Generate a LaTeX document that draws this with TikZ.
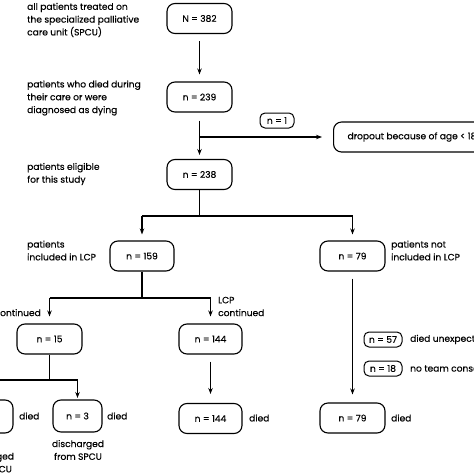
\documentclass[tikz,border=0pt]{standalone}
\usepackage{fontspec}
\setmainfont{Poppins}[FakeBold=0.35]
\usetikzlibrary{arrows.meta}
\begin{document}
\begin{tikzpicture}[x=1pt,y=-1pt,
  txt/.style={font=\fontsize{9.1}{12.8}\selectfont},
  box/.style={draw, rounded corners=8pt, line width=1.1pt, minimum width=65pt, minimum height=30pt, inner sep=0pt, txt},
  sbox/.style={draw, rounded corners=5pt, line width=1pt, minimum width=36pt, minimum height=15pt, inner sep=0pt, txt},
  lbl/.style={align=left, anchor=west, inner sep=0pt, txt},
  ln/.style={line width=1.1pt},
  arr/.style={line width=1.1pt, -{Stealth[length=6pt,width=4.5pt]}}
]
\useasboundingbox (0,0) rectangle (474,474);
\clip (0,0) rectangle (474,474);

% main boxes
\node[box] (n382) at (199.5,18.5) {N = 382};
\node[box] (n239) at (199.5,97) {n = 239};
\node[box] (n238) at (199.5,174.5) {n = 238};
\node[sbox, minimum width=34pt] (n1) at (277,120.5) {n = 1};
\node[box, anchor=west, minimum width=0pt, inner xsep=14pt, align=left] (drop) at (333,137) {dropout because of age < 18};
\node[box, minimum width=64pt] (n159) at (142,256) {n = 159};
\node[box] (n79) at (352.5,256) {n = 79};
\node[box] (n15) at (49.5,339) {n = 15};
\node[box, minimum width=63pt] (n144) at (210.5,339) {n = 144};
\node[box, minimum width=63pt] (n144b) at (210.5,418.5) {n = 144};
\node[box] (n79b) at (352.5,418) {n = 79};
\node[box, minimum width=49pt, minimum height=32pt] (n3) at (77.5,416) {n = 3};
\node[box, minimum width=63pt, minimum height=33pt, align=right, font=\fontsize{5}{6}\selectfont] (nleft) at (-18.5,416.5) {\hfill\\\hfill LCP\,\,};
\node[sbox, minimum width=38pt] (n57) at (383,339.5) {n = 57};
\node[sbox, minimum width=38pt] (n18) at (383,368.5) {n = 18};

% labels
\node[lbl] (l1) at (27,20) {all patients treated on\\the specialized palliative\\care unit (SPCU)};
\node[lbl] (l2) at (27,98) {patients who died during\\their care or were\\diagnosed as dying};
\node[lbl] (l3) at (27,174) {patients eligible\\for this study};
\node[lbl] (l4) at (27,250.5) {patients\\included in LCP};
\node[lbl] (l5) at (218,306.5) {LCP\\continued};
\node[lbl, anchor=east] (l6) at (41,306.5) {LCP\\discontinued};
\node[lbl] (l7) at (391,250.5) {patients not\\included in LCP};
\node[lbl] (l8) at (410,339.5) {died unexpectedly};
\node[lbl] (l9) at (410,368.5) {no team consensus};
\node[lbl] (d1) at (107,416) {died};
\node[lbl] (d2) at (19,416) {died};
\node[lbl] (d3) at (249,418) {died};
\node[lbl] (d4) at (391,418) {died};
\node[txt, align=center, inner sep=0pt] (dis1) at (78,450) {discharged\\from SPCU};
\node[txt, align=center, inner sep=0pt] (dis2) at (-12,462.5) {discharged\\from SPCU};

% junction coordinates
\coordinate (j1) at (199.5,137);
\coordinate (j2) at (199.5,216);
\coordinate (j2l) at (142,216);
\coordinate (j2r) at (352.5,216);
\coordinate (j3) at (142,298);
\coordinate (j3l) at (49.5,298);
\coordinate (j3r) at (210.5,298);
\coordinate (j4) at (49.5,380);
\coordinate (j4l) at (-18.5,380);
\coordinate (j4r) at (77.5,380);

% connectors
\draw[arr, shorten <=7pt, shorten >=7pt] (n382) -- (n239);
\draw[arr, shorten <=8pt, shorten >=4pt] (n239) -- (n238);
\draw[arr, shorten >=11pt] (j1) -- (drop.west);
\draw[ln] (n238.south) -- (j2);
\draw[ln] (j2l) -- (j2r);
\draw[arr, shorten >=6pt] (j2l) -- (n159.north);
\draw[arr, shorten >=6pt] (j2r) -- (n79.north);
\draw[ln] (n159.south) -- (j3);
\draw[ln] (j3l) -- (j3r);
\draw[arr, shorten >=7pt] (j3l) -- (n15.north);
\draw[arr, shorten >=7pt] (j3r) -- (n144.north);
\draw[ln] (n15.south) -- (j4);
\draw[ln] (j4l) -- (j4r);
\draw[arr, shorten >=1.5pt] (j4r) -- (n3.north);
\draw[arr, shorten >=1.5pt] (j4l) -- (nleft.north);
\draw[arr, shorten <=7pt, shorten >=9pt] (n144) -- (n144b);
\draw[arr, shorten <=7pt, shorten >=8pt] (n79) -- (n79b);
\end{tikzpicture}
\end{document}
